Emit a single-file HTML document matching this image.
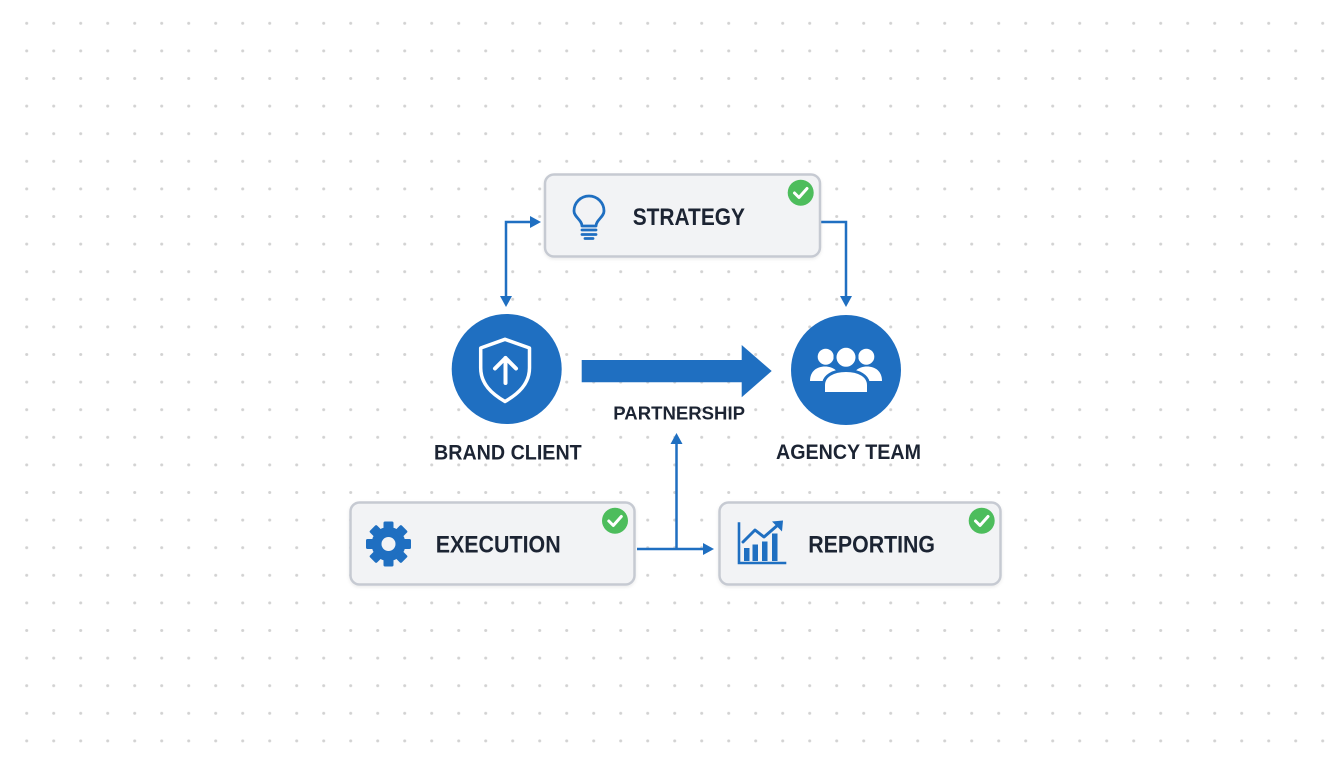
<!DOCTYPE html>
<html><head><meta charset="utf-8">
<style>
html,body{margin:0;padding:0;background:#fff;}
svg{display:block;}
text{font-family:"Liberation Sans",sans-serif;font-weight:bold;fill:#1c2433;}
</style></head>
<body>
<svg width="1344" height="768" viewBox="0 0 1344 768" xmlns="http://www.w3.org/2000/svg">
<defs>
<pattern id="dots" x="13.2" y="9.5" width="27" height="27.6" patternUnits="userSpaceOnUse">
<circle cx="13.5" cy="13.8" r="1.5" fill="#d2d2d2"/>
</pattern>
<filter id="sh" x="-10%" y="-10%" width="120%" height="130%">
<feDropShadow dx="0" dy="1.5" stdDeviation="1.5" flood-color="#000" flood-opacity="0.08"/>
</filter>
</defs>
<rect width="1344" height="768" fill="#fff"/>
<rect x="18" y="14" width="1316" height="740" fill="url(#dots)"/>

<!-- connectors -->
<g stroke="#1f6fc1" stroke-width="2.5" fill="none">
<polyline points="506,298 506,222 532,222"/>
<polyline points="821,222 846,222 846,298"/>
<polyline points="637,549 704,549"/>
<polyline points="676.5,549 676.5,443"/>
</g>
<g fill="#1f6fc1">
<polygon points="500,296 512,296 506,307"/>
<polygon points="530,216 530,228 541,222"/>
<polygon points="840,296 852,296 846,307"/>
<polygon points="703,543 703,555 714,549"/>
<polygon points="670.5,444 682.5,444 676.5,433"/>
</g>

<!-- big arrow -->
<polygon points="581.7,360 741.7,360 741.7,345 771.7,371 741.7,397.3 741.7,382.3 581.7,382.3" fill="#1f6fc1"/>

<!-- Strategy box -->
<rect x="545" y="174.5" width="275" height="82" rx="9" fill="#f2f3f5" stroke="#c6cad2" stroke-width="2.5" filter="url(#sh)"/>
<g stroke="#1f6fc1" stroke-width="2.8" fill="none" stroke-linecap="round" stroke-linejoin="round">
<path d="M582 226 C582 220 574 217 574 211 A15 15 0 1 1 604 211 C604 217 596 220 596 226 Z"/>
<line x1="582" y1="230" x2="596" y2="230"/>
<line x1="582" y1="234.5" x2="596" y2="234.5"/>
<line x1="585" y1="238.5" x2="593" y2="238.5"/>
</g>
<text x="632.7" y="225" font-size="24" textLength="112.3" lengthAdjust="spacingAndGlyphs">STRATEGY</text>
<circle cx="800.7" cy="192.7" r="13" fill="#4dbd5c"/>
<polyline points="794.5,193 799,197.5 807,188.5" stroke="#fff" stroke-width="3" fill="none" stroke-linecap="round" stroke-linejoin="round"/>

<!-- Brand client circle -->
<circle cx="506.7" cy="369" r="55" fill="#1f6fc1"/>
<path d="M505 339.3 L529.5 348 L529.5 368 C529.5 384 518 394 505 401.5 C492 394 480.7 384 480.7 368 L480.7 348 Z" fill="none" stroke="#fff" stroke-width="3.5" stroke-linejoin="round"/>
<g stroke="#fff" stroke-width="4" fill="none" stroke-linecap="round" stroke-linejoin="round">
<line x1="505.5" y1="383" x2="505.5" y2="358"/>
<polyline points="495,368.5 505.5,358 516,368.5"/>
</g>

<!-- Agency team circle -->
<circle cx="846" cy="370" r="55" fill="#1f6fc1"/>
<g fill="#fff">
<circle cx="825.7" cy="356.7" r="8"/>
<circle cx="866.3" cy="356.7" r="8"/>
<path d="M810 381 C810 371 817 366.5 825 366.5 C833 366.5 840 371 840 381 Z"/>
<path d="M852 381 C852 371 859 366.5 867 366.5 C875 366.5 882 371 882 381 Z"/>
</g>
<circle cx="846" cy="357.3" r="11" fill="#fff" stroke="#1f6fc1" stroke-width="3"/>
<path d="M823.5 393.5 L823.5 385 C823.5 376 833 370.5 846 370.5 C859 370.5 868.5 376 868.5 385 L868.5 393.5 Z" fill="#fff" stroke="#1f6fc1" stroke-width="3"/>

<text x="613.3" y="419.3" font-size="18.3" textLength="131.7" lengthAdjust="spacingAndGlyphs">PARTNERSHIP</text>
<text x="434" y="459.3" font-size="21" textLength="147.7" lengthAdjust="spacingAndGlyphs">BRAND CLIENT</text>
<text x="776" y="459" font-size="21" textLength="145" lengthAdjust="spacingAndGlyphs">AGENCY TEAM</text>

<!-- Execution box -->
<rect x="350.5" y="502.5" width="284" height="82" rx="9" fill="#f2f3f5" stroke="#c6cad2" stroke-width="2.5" filter="url(#sh)"/>
<g transform="translate(388.5,544)" fill="#1f6fc1">
<circle r="17"/>
<rect x="-5" y="-22.5" width="10" height="10" rx="1.5"/>
<rect x="-5" y="-22.5" width="10" height="10" rx="1.5" transform="rotate(45)"/>
<rect x="-5" y="-22.5" width="10" height="10" rx="1.5" transform="rotate(90)"/>
<rect x="-5" y="-22.5" width="10" height="10" rx="1.5" transform="rotate(135)"/>
<rect x="-5" y="-22.5" width="10" height="10" rx="1.5" transform="rotate(180)"/>
<rect x="-5" y="-22.5" width="10" height="10" rx="1.5" transform="rotate(225)"/>
<rect x="-5" y="-22.5" width="10" height="10" rx="1.5" transform="rotate(270)"/>
<rect x="-5" y="-22.5" width="10" height="10" rx="1.5" transform="rotate(315)"/>
<circle r="7" fill="#f2f3f5"/>
</g>
<text x="435.7" y="552.3" font-size="24" textLength="125" lengthAdjust="spacingAndGlyphs">EXECUTION</text>
<circle cx="615" cy="520.7" r="13" fill="#4dbd5c"/>
<polyline points="608.8,521 613.3,525.5 621.3,516.5" stroke="#fff" stroke-width="3" fill="none" stroke-linecap="round" stroke-linejoin="round"/>

<!-- Reporting box -->
<rect x="719.5" y="502.5" width="281" height="82" rx="9" fill="#f2f3f5" stroke="#c6cad2" stroke-width="2.5" filter="url(#sh)"/>
<g fill="none" stroke="#1f6fc1" stroke-width="2.6" stroke-linecap="square">
<polyline points="739,523.5 739,563 785,563"/>
</g>
<g fill="#1f6fc1">
<rect x="744" y="548" width="5.5" height="13"/>
<rect x="752.5" y="544.5" width="5.5" height="16.5"/>
<rect x="762" y="541.5" width="5.5" height="19.5"/>
<rect x="772" y="533.5" width="5.5" height="27.5"/>
<polygon points="772,521.5 783,520.5 782,531.5"/>
</g>
<polyline points="743,542 755,530 764,537 779,524" fill="none" stroke="#1f6fc1" stroke-width="3" stroke-linejoin="round" stroke-linecap="round"/>
<text x="808.3" y="552.3" font-size="24" textLength="126.7" lengthAdjust="spacingAndGlyphs">REPORTING</text>
<circle cx="981.7" cy="520.7" r="13" fill="#4dbd5c"/>
<polyline points="975.5,521 980,525.5 988,516.5" stroke="#fff" stroke-width="3" fill="none" stroke-linecap="round" stroke-linejoin="round"/>
</svg>
</body></html>
